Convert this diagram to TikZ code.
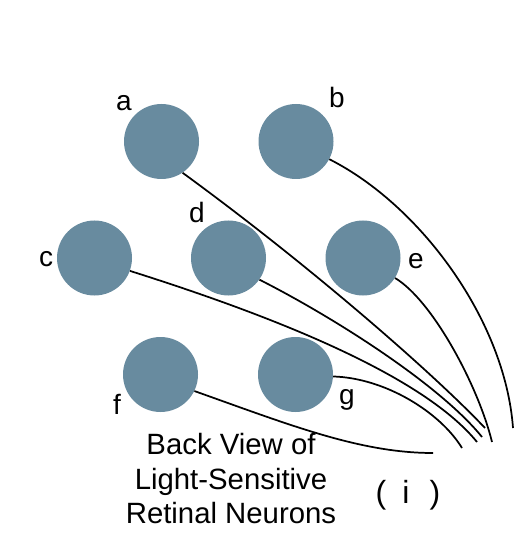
\documentclass[tikz,border=0pt]{standalone}
\usepackage{fontspec}
\setmainfont{Liberation Sans}
\definecolor{cellblue}{RGB}{104,139,159}
\begin{document}
\begin{tikzpicture}[x=0.75pt,y=-0.75pt,
  cell/.style={circle,fill=cellblue,draw=none,minimum size=56.25pt,inner sep=0pt},
  lbl/.style={font=\fontsize{21}{25}\selectfont,anchor=base,inner sep=0pt},
  paren/.style={font=\fontsize{24}{28}\selectfont,anchor=base,inner sep=0pt},
  axon/.style={line width=1.3pt,black},
  caption/.style={font=\fontsize{22}{26}\selectfont,align=center,inner sep=0pt}]
\useasboundingbox (0,0) rectangle (514,534);
% cells
\node[cell] (a) at (161.5,141.5) {};
\node[cell] (b) at (296,141.5) {};
\node[cell] (c) at (94.5,258) {};
\node[cell] (d) at (228.5,258) {};
\node[cell] (e) at (363,258) {};
\node[cell] (f) at (160.5,374.5) {};
\node[cell] (g) at (295.5,374.5) {};
% labels
\node[lbl] (la) at (124,111) {a};
\node[lbl] (lb) at (337,108) {b};
\node[lbl] (lc) at (46,266) {c};
\node[lbl] (ld) at (197,223) {d};
\node[lbl] (le) at (416,268) {e};
\node[lbl] (lf) at (117,414) {f};
\node[lbl] (lg) at (347,404) {g};
% end points
\coordinate (ea) at (485,428);
\coordinate (eb) at (513,428);
\coordinate (ec) at (477,442);
\coordinate (ed) at (482,437);
\coordinate (ee) at (492,442);
\coordinate (ef) at (433,453);
\coordinate (eg) at (462,448);
% axons
\draw[axon] (a.-56) .. controls (305,262) and (430,370) .. (ea);
\draw[axon] (b.-28) .. controls (420,205) and (505,320) .. (eb);
\draw[axon] (c.-20) .. controls (260,312) and (420,372) .. (ec);
\draw[axon] (d.-35) .. controls (335,318) and (440,385) .. (ed);
\draw[axon] (e.-32) .. controls (432,300) and (478,385) .. (ee);
\draw[axon] (f.-26) .. controls (290,425) and (360,453) .. (ef);
\draw[axon] (g.-3) .. controls (385,378) and (440,412) .. (eg);
% caption
\node[caption,anchor=north] (cap) at (231,433) {Back View of\\Light-Sensitive\\Retinal Neurons};
\node[paren] (p1) at (381,503) {(};
\node[paren] (p2) at (406,503) {i};
\node[paren] (p3) at (435,503) {)};
\end{tikzpicture}
\end{document}
